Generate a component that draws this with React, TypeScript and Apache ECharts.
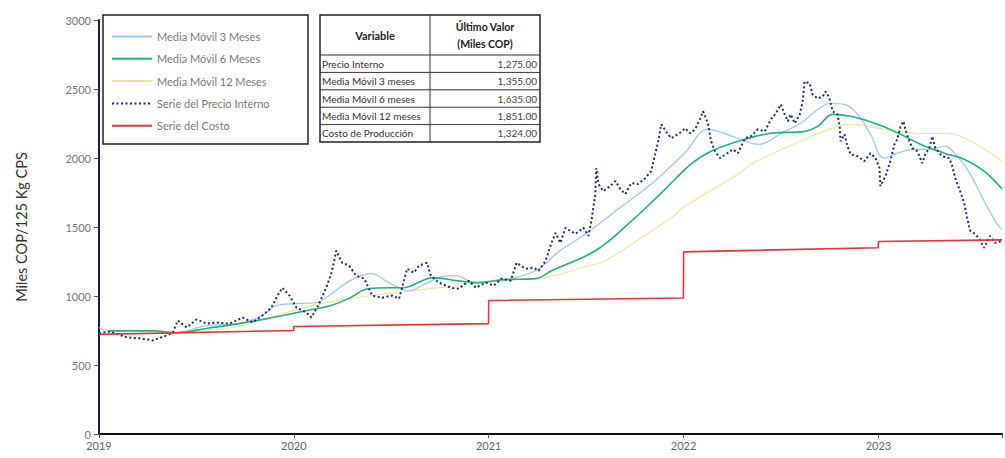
import React, { useEffect, useRef } from "react";
import * as echarts from "echarts";

const yearTicks = [2019, 2020, 2021, 2022, 2023];

const priceYears = [
  2019.0, 2019.056, 2019.143, 2019.21, 2019.276, 2019.348, 2019.379, 2019.404, 2019.45, 2019.501,
  2019.552, 2019.604, 2019.67, 2019.737, 2019.788, 2019.839, 2019.885, 2019.916, 2019.941, 2019.977,
  2020.013, 2020.064, 2020.09, 2020.13, 2020.166, 2020.192, 2020.207, 2020.217, 2020.248, 2020.284,
  2020.32, 2020.361, 2020.402, 2020.453, 2020.504, 2020.54, 2020.565, 2020.581, 2020.616, 2020.642,
  2020.683, 2020.703, 2020.744, 2020.806, 2020.847, 2020.898, 2020.934, 2020.985, 2021.026, 2021.066,
  2021.113, 2021.143, 2021.189, 2021.23, 2021.256, 2021.292, 2021.322, 2021.343, 2021.368, 2021.394,
  2021.445, 2021.486, 2021.512, 2021.527, 2021.547, 2021.552, 2021.563, 2021.588, 2021.624, 2021.65,
  2021.675, 2021.701, 2021.731, 2021.767, 2021.803, 2021.834, 2021.854, 2021.87, 2021.885, 2021.91,
  2021.936, 2021.972, 2022.008, 2022.033, 2022.059, 2022.084, 2022.1, 2022.125, 2022.141, 2022.161,
  2022.187, 2022.217, 2022.253, 2022.279, 2022.315, 2022.345, 2022.381, 2022.417, 2022.448, 2022.473,
  2022.499, 2022.519, 2022.535, 2022.55, 2022.57, 2022.596, 2022.611, 2022.621, 2022.647, 2022.662,
  2022.688, 2022.714, 2022.729, 2022.749, 2022.765, 2022.79, 2022.801, 2022.806, 2022.826, 2022.841,
  2022.857, 2022.893, 2022.928, 2022.959, 2022.985, 2023.005, 2023.01, 2023.036, 2023.061, 2023.082,
  2023.097, 2023.113, 2023.128, 2023.138, 2023.159, 2023.174, 2023.2, 2023.225, 2023.24, 2023.261,
  2023.276, 2023.292, 2023.327, 2023.363, 2023.379, 2023.394, 2023.419, 2023.44, 2023.455, 2023.471,
  2023.496, 2023.517, 2023.542, 2023.573, 2023.598, 2023.634,
];
const priceValues = [
  730, 743, 700, 693, 678, 714, 736, 823, 772, 830,
  800, 808, 800, 844, 808, 859, 916, 1003, 1060, 1003,
  916, 880, 844, 945, 1060, 1162, 1255, 1328, 1241, 1219,
  1147, 1126, 1003, 988, 1003, 981, 1111, 1198, 1169, 1219,
  1241, 1147, 1097, 1060, 1053, 1111, 1060, 1097, 1075, 1126,
  1111, 1241, 1198, 1205, 1183, 1255, 1385, 1457, 1385, 1494,
  1450, 1494, 1436, 1544, 1739, 1926, 1811, 1760, 1796, 1833,
  1775, 1739, 1818, 1811, 1854, 1905, 2027, 2121, 2244, 2193,
  2143, 2172, 2215, 2179, 2208, 2280, 2338, 2251, 2121, 2049,
  1999, 2027, 2063, 2035, 2143, 2157, 2208, 2193, 2280, 2323,
  2388, 2316, 2266, 2316, 2251, 2316, 2410, 2554, 2540, 2460,
  2431, 2446, 2482, 2431, 2338, 2316, 2229, 2121, 2172, 2085,
  2027, 2013, 1977, 2035, 1999, 1926, 1796, 1869, 1977, 2100,
  2136, 2229, 2266, 2208, 2121, 2071, 2049, 1962, 2027, 2071,
  2157, 2071, 2013, 1999, 1941, 1854, 1760, 1674, 1566, 1472,
  1450, 1414, 1349, 1436, 1385, 1400,
];

const ma3Years = [
  2019.0, 2019.056, 2019.276, 2019.379, 2019.552, 2019.721, 2019.839, 2019.91, 2020.013, 2020.115,
  2020.182, 2020.248, 2020.32, 2020.396, 2020.488, 2020.591, 2020.678, 2020.76, 2020.831, 2020.934,
  2021.036, 2021.138, 2021.256, 2021.358, 2021.496, 2021.665, 2021.834, 2021.92, 2022.008, 2022.125,
  2022.176, 2022.279, 2022.381, 2022.519, 2022.601, 2022.688, 2022.754, 2022.826, 2022.893, 2022.959,
  2023.031, 2023.097, 2023.184, 2023.266, 2023.338, 2023.404, 2023.471, 2023.542, 2023.609, 2023.634,
];
const ma3Values = [
  772, 743, 743, 729, 786, 800, 859, 931, 945, 952,
  1003, 1075, 1133, 1162, 1097, 1039, 1090, 1140, 1147, 1097,
  1111, 1133, 1195, 1320, 1450, 1630, 1811, 1920, 2040, 2208,
  2193, 2143, 2100, 2193, 2251, 2352, 2395, 2388, 2316, 2172,
  1999, 2035, 2063, 2063, 2085, 2013, 1883, 1688, 1522, 1480,
];

const ma6Years = [
  2019.05, 2019.28, 2019.4, 2019.55, 2019.72, 2019.89, 2020.07, 2020.19, 2020.29, 2020.38,
  2020.5, 2020.56, 2020.66, 2020.71, 2020.84, 2020.94, 2021.07, 2021.24, 2021.322, 2021.547,
  2021.716, 2021.885, 2022.038, 2022.141, 2022.315, 2022.448, 2022.621, 2022.688, 2022.765, 2022.857,
  2022.995, 2023.113, 2023.215, 2023.338, 2023.44, 2023.542, 2023.634,
];
const ma6Values = [
  748, 748, 735, 765, 800, 844, 895, 931, 988, 1053,
  1060, 1060, 1111, 1133, 1111, 1097, 1118, 1126, 1183, 1328,
  1522, 1746, 1955, 2049, 2136, 2179, 2193, 2229, 2316, 2302,
  2244, 2172, 2100, 2035, 1991, 1905, 1775,
];

const ma12Years = [
  2019.5, 2019.69, 2020.14, 2020.744, 2021.153, 2021.256, 2021.512, 2021.598, 2021.936, 2022.008,
  2022.279, 2022.345, 2022.621, 2022.79, 2022.857, 2023.031, 2023.2, 2023.338, 2023.455, 2023.634,
];
const ma12Values = [
  750, 772, 945, 1060, 1120, 1126, 1219, 1255, 1566, 1650,
  1883, 1955, 2136, 2229, 2244, 2208, 2179, 2179, 2136, 1977,
];

const costYears = [2019.0, 2019.999, 2020.0, 2020.999, 2021.0, 2021.999, 2022.0, 2022.999, 2023.0, 2023.634];
const costValues = [722, 750, 779, 800, 967, 985, 1320, 1350, 1395, 1407];

const seriesNames = [
  "Media Móvil 3 Meses",
  "Media Móvil 6 Meses",
  "Media Móvil 12 Meses",
  "Serie del Precio Interno",
  "Serie del Costo",
];

const tableHeader = ["Variable", "Último Valor", "(Miles COP)"];
const tableLabels = [
  "Precio Interno",
  "Media Móvil 3 meses",
  "Media Móvil 6 meses",
  "Media Móvil 12 meses",
  "Costo de Producción",
];
const tableValues = ["1,275.00", "1,355.00", "1,635.00", "1,851.00", "1,324.00"];

const yAxisName = "Miles COP/125 Kg CPS";

const zip = (xs: number[], ys: number[]) => xs.map((x, i) => [x, ys[i]]);

const FONT = "Lato, 'Open Sans', sans-serif";

function buildTable() {
  const x0 = 320;
  const y0 = 15;
  const w = 220;
  const colSplit = 110;
  const headH = 40;
  const rowH = 17.4;
  const h = headH + rowH * tableLabels.length;
  const els: any[] = [];
  els.push({
    type: "rect",
    shape: { x: x0, y: y0, width: w, height: h },
    style: { fill: "#fff", stroke: "#222", lineWidth: 1.5 },
    z: 100,
  });
  els.push({
    type: "line",
    shape: { x1: x0 + colSplit, y1: y0, x2: x0 + colSplit, y2: y0 + h },
    style: { stroke: "#333", lineWidth: 1 },
    z: 101,
  });
  for (let i = 0; i < tableLabels.length; i++) {
    const yy = y0 + headH + rowH * i;
    els.push({
      type: "line",
      shape: { x1: x0, y1: yy, x2: x0 + w, y2: yy },
      style: { stroke: "#333", lineWidth: 1 },
      z: 101,
    });
    els.push({
      type: "text",
      x: x0 + 2,
      y: yy + rowH / 2,
      style: {
        text: tableLabels[i],
        fill: "#333",
        font: `10px ${FONT}`,
        textAlign: "left",
        textVerticalAlign: "middle",
      },
      z: 102,
    });
    els.push({
      type: "text",
      x: x0 + w - 3,
      y: yy + rowH / 2,
      style: {
        text: tableValues[i],
        fill: "#444",
        font: `10px ${FONT}`,
        textAlign: "right",
        textVerticalAlign: "middle",
      },
      z: 102,
    });
  }
  els.push({
    type: "text",
    x: x0 + colSplit / 2,
    y: y0 + headH / 2,
    style: {
      text: tableHeader[0],
      fill: "#222",
      font: `bold 11px ${FONT}`,
      textAlign: "center",
      textVerticalAlign: "middle",
    },
    z: 102,
  });
  els.push({
    type: "text",
    x: x0 + colSplit + (w - colSplit) / 2,
    y: y0 + 12,
    style: {
      text: tableHeader[1],
      fill: "#222",
      font: `bold 10.5px ${FONT}`,
      textAlign: "center",
      textVerticalAlign: "middle",
    },
    z: 102,
  });
  els.push({
    type: "text",
    x: x0 + colSplit + (w - colSplit) / 2,
    y: y0 + 29,
    style: {
      text: tableHeader[2],
      fill: "#222",
      font: `bold 10.5px ${FONT}`,
      textAlign: "center",
      textVerticalAlign: "middle",
    },
    z: 102,
  });
  return els;
}

export default function App() {
  const ref = useRef<HTMLDivElement>(null);

  useEffect(() => {
    if (!ref.current) return;
    const chart = echarts.init(ref.current, undefined, { renderer: "svg" });
    const colors = ["#9fc9e6", "#27b07a", "#f1e3a8", "#1f2b74", "#e2343a"];
    const option: any = {
      animation: false,
      backgroundColor: "#fff",
      textStyle: { fontFamily: FONT },
      grid: { left: 99, right: 0, top: 20, bottom: 24 },
      xAxis: {
        type: "value",
        min: 2019,
        max: 2023.634,
        interval: 1,
        axisLine: { show: true, lineStyle: { color: "#111", width: 2 } },
        axisTick: { show: true, length: 4, lineStyle: { color: "#555" } },
        axisLabel: {
          color: "#666",
          fontSize: 11,
          margin: 6,
          formatter: (v: number) => (yearTicks.includes(Math.round(v)) ? String(Math.round(v)) : ""),
        },
        splitLine: { show: false },
      },
      yAxis: {
        type: "value",
        min: 0,
        max: 3000,
        interval: 500,
        name: yAxisName,
        nameLocation: "middle",
        nameGap: 70,
        nameTextStyle: { color: "#333", fontSize: 14.5 },
        axisLine: { show: true, lineStyle: { color: "#1a1f4a", width: 2 } },
        axisTick: { show: true, length: 5, lineStyle: { color: "#555" } },
        axisLabel: { color: "#777", fontSize: 11, margin: 8, formatter: (v: number) => String(v) },
        splitLine: { show: false },
      },
      legend: {
        orient: "vertical",
        left: 106,
        top: 26,
        itemWidth: 40,
        itemHeight: 12,
        itemGap: 11.3,
        itemStyle: { opacity: 0 },
        textStyle: { color: "#7a7a7a", fontSize: 11, fontFamily: FONT },
        data: seriesNames,
      },
      graphic: [
        {
          type: "rect",
          shape: { x: 103, y: 15, width: 205, height: 129 },
          style: { fill: "#fff", stroke: "#222", lineWidth: 1.5 },
          z: -1,
          zlevel: 0,
        },
        ...buildTable(),
      ],
      series: [
        {
          name: seriesNames[0],
          type: "line",
          data: zip(ma3Years, ma3Values),
          symbol: "none",
          smooth: 0.4,
          lineStyle: { color: colors[0], width: 1.2 },
          itemStyle: { color: colors[0] },
          z: 3,
        },
        {
          name: seriesNames[1],
          type: "line",
          data: zip(ma6Years, ma6Values),
          symbol: "none",
          smooth: 0.4,
          lineStyle: { color: colors[1], width: 1.6 },
          itemStyle: { color: colors[1] },
          z: 4,
        },
        {
          name: seriesNames[2],
          type: "line",
          data: zip(ma12Years, ma12Values),
          symbol: "none",
          smooth: 0.4,
          lineStyle: { color: colors[2], width: 1.2 },
          itemStyle: { color: colors[2] },
          z: 2,
        },
        {
          name: seriesNames[3],
          type: "line",
          data: zip(priceYears, priceValues),
          symbol: "none",
          lineStyle: { color: colors[3], width: 2, type: [2, 2.5] },
          itemStyle: { color: colors[3] },
          z: 5,
        },
        {
          name: seriesNames[4],
          type: "line",
          data: zip(costYears, costValues),
          symbol: "none",
          lineStyle: { color: colors[4], width: 1.6 },
          itemStyle: { color: colors[4] },
          z: 6,
        },
      ],
    };
    chart.setOption(option);
    return () => chart.dispose();
  }, []);

  return (
    <div
      ref={ref}
      style={{ position: "absolute", left: 0, top: 0, width: 1005, height: 458, background: "#fff" }}
    />
  );
}
